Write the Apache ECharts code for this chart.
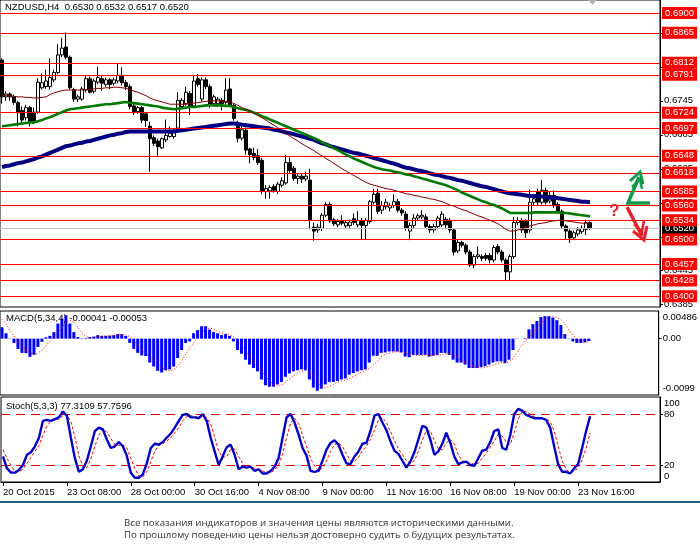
<!DOCTYPE html>
<html><head><meta charset="utf-8">
<script src="https://cdn.jsdelivr.net/npm/echarts@6/dist/echarts.min.js"></script>
<style>html,body{margin:0;padding:0;background:#fff;}#c{width:700px;height:552px;}</style>
</head><body><div id="c"></div>
<script>
const symbolName = 'NZDUSD,H4';
// prices in pips (x 0.0001)
const openPips = [6817,6752,6757,6752,6742,6728,6715,6733,6725,6725,
6768,6770,6770,6782,6795,6826,6840,6822,6765,6748,
6748,6764,6784,6762,6778,6784,6774,6782,6776,6780,
6790,6777,6770,6736,6726,6733,6722,6700,6680,6674,
6662,6676,6682,6682,6697,6735,6740,6758,6736,6784,
6748,6782,6770,6740,6740,6746,6742,6766,6737,6702,
6679,6693,6660,6652,6648,6640,6585,6586,6594,6585,
6596,6600,6636,6626,6608,6612,6607,6605,6522,6517,
6520,6543,6562,6535,6526,6533,6524,6525,6537,6526,
6534,6525,6532,6566,6582,6552,6558,6556,6560,6567,
6552,6545,6515,6525,6538,6540,6540,6523,6517,6523,
6526,6536,6534,6517,6480,6495,6490,6478,6455,6470,
6470,6472,6472,6464,6488,6478,6464,6443,6470,6530,
6534,6532,6517,6566,6585,6566,6587,6568,6578,6562,
6550,6524,6515,6503,6510,6514,6518,6530];
const highPips = [6820,6762,6760,6756,6745,6735,6738,6736,6733,6785,
6793,6800,6820,6800,6845,6856,6866,6825,6768,6756,
6770,6790,6788,6784,6805,6790,6786,6785,6786,6812,
6804,6782,6774,6740,6736,6736,6725,6708,6684,6678,
6680,6712,6700,6696,6760,6750,6770,6762,6790,6792,
6786,6786,6774,6756,6752,6750,6785,6785,6740,6710,
6700,6698,6662,6662,6660,6644,6596,6596,6598,6602,
6610,6650,6645,6630,6616,6616,6620,6625,6530,6528,
6547,6566,6566,6538,6536,6543,6533,6535,6546,6550,
6538,6538,6570,6590,6590,6568,6572,6565,6580,6572,
6556,6550,6530,6545,6546,6552,6545,6527,6528,6542,
6550,6540,6538,6520,6500,6498,6493,6482,6474,6488,
6474,6476,6476,6490,6492,6482,6467,6474,6540,6540,
6538,6536,6588,6580,6590,6605,6592,6585,6587,6566,
6553,6527,6518,6516,6522,6525,6535,6532];
const lowPips = [6740,6745,6745,6738,6700,6705,6710,6700,6704,6722,
6765,6766,6765,6778,6792,6822,6818,6765,6743,6743,
6745,6760,6758,6758,6774,6763,6770,6766,6772,6776,
6772,6764,6730,6720,6722,6706,6699,6620,6665,6648,
6660,6672,6680,6678,6692,6730,6736,6720,6732,6770,
6744,6766,6732,6736,6735,6728,6738,6734,6710,6672,
6675,6650,6635,6640,6632,6580,6572,6572,6583,6580,
6592,6597,6618,6604,6598,6600,6603,6518,6498,6512,
6515,6540,6530,6524,6522,6525,6520,6521,6526,6522,
6500,6500,6528,6562,6545,6545,6553,6550,6556,6548,
6542,6516,6499,6520,6534,6536,6520,6512,6512,6518,
6522,6520,6512,6472,6476,6486,6474,6452,6450,6466,
6462,6463,6458,6460,6474,6460,6428,6428,6466,6526,
6512,6503,6512,6560,6560,6562,6562,6564,6556,6546,
6520,6500,6494,6500,6506,6510,6508,6517];
const closePips = [6752,6757,6752,6742,6724,6711,6733,6708,6708,6778,
6777,6780,6786,6795,6826,6838,6822,6768,6748,6752,
6766,6784,6760,6780,6786,6776,6782,6774,6782,6790,
6777,6770,6735,6724,6733,6711,6710,6678,6670,6664,
6678,6684,6688,6690,6746,6746,6760,6736,6780,6774,
6782,6770,6737,6752,6748,6740,6764,6737,6714,6679,
6694,6658,6650,6645,6636,6585,6590,6592,6587,6598,
6604,6636,6622,6608,6612,6607,6612,6534,6515,6522,
6543,6562,6533,6528,6532,6529,6530,6531,6530,6534,
6525,6534,6567,6580,6550,6560,6566,6560,6567,6552,
6547,6520,6525,6538,6542,6543,6523,6517,6523,6538,
6545,6526,6517,6478,6495,6490,6478,6455,6470,6473,
6467,6467,6464,6486,6478,6464,6443,6470,6530,6534,
6517,6512,6566,6572,6566,6587,6566,6578,6560,6550,
6524,6515,6503,6512,6517,6520,6530,6520];
const maFastPips = [6755,6754,6754,6753,6752,6752,6751,6751,6750,6750,
6751,6752,6756,6759,6761,6763,6764,6764,6764,6764,
6764,6765,6765,6766,6767,6767,6768,6768,6769,6769,
6768,6767,6765,6762,6760,6757,6754,6750,6747,6745,
6743,6741,6739,6739,6739,6739,6739,6740,6741,6742,
6743,6744,6745,6745,6745,6744,6744,6743,6740,6737,
6733,6730,6727,6723,6719,6715,6711,6706,6702,6697,
6692,6687,6683,6678,6674,6669,6665,6661,6657,6652,
6648,6643,6639,6634,6630,6625,6621,6617,6613,6609,
6605,6601,6598,6596,6594,6592,6590,6589,6587,6585,
6583,6581,6580,6578,6577,6575,6574,6572,6571,6569,
6567,6564,6561,6559,6556,6553,6551,6548,6545,6542,
6540,6537,6534,6531,6528,6523,6518,6515,6515,6517,
6519,6522,6524,6526,6528,6529,6530,6532,6533,6534,
6534,6533,6532,6531,6530,6529,6529,6529];
const maMidPips = [6700,6701,6702,6703,6704,6705,6706,6707,6707,6709,
6711,6714,6716,6719,6722,6725,6728,6730,6731,6732,
6733,6734,6735,6736,6737,6738,6739,6739,6740,6741,
6742,6743,6742,6741,6740,6739,6738,6737,6736,6735,
6733,6732,6731,6730,6731,6732,6733,6734,6734,6735,
6736,6737,6737,6737,6737,6737,6736,6736,6734,6732,
6730,6729,6727,6724,6721,6718,6715,6712,6709,6706,
6703,6700,6697,6694,6691,6688,6685,6682,6679,6676,
6672,6668,6665,6661,6658,6654,6650,6647,6643,6640,
6637,6634,6631,6628,6626,6624,6623,6622,6620,6619,
6617,6615,6614,6612,6610,6608,6606,6604,6602,6600,
6598,6596,6593,6590,6587,6583,6580,6577,6574,6571,
6568,6566,6563,6561,6558,6555,6551,6547,6547,6547,
6547,6547,6547,6548,6548,6548,6548,6548,6548,6548,
6547,6547,6546,6545,6544,6543,6542,6541];
const maSlowPips = [6628,6630,6631,6633,6635,6636,6638,6640,6642,6645,
6647,6650,6653,6656,6659,6662,6665,6666,6668,6670,
6671,6673,6674,6676,6678,6680,6682,6684,6685,6687,
6688,6690,6691,6691,6691,6691,6691,6691,6691,6691,
6691,6691,6691,6691,6692,6693,6694,6695,6696,6697,
6698,6699,6700,6701,6702,6703,6704,6705,6705,6704,
6703,6702,6701,6700,6699,6698,6697,6696,6694,6693,
6691,6689,6688,6686,6684,6682,6680,6678,6676,6673,
6670,6668,6665,6663,6661,6659,6657,6655,6653,6652,
6650,6648,6646,6644,6642,6640,6638,6636,6634,6632,
6629,6627,6626,6624,6622,6621,6619,6617,6615,6614,
6612,6610,6609,6607,6605,6604,6602,6600,6598,6596,
6594,6593,6591,6589,6587,6585,6583,6582,6581,6580,
6579,6578,6577,6577,6576,6576,6575,6574,6574,6573,
6572,6571,6570,6569,6568,6567,6567,6566];
// MACD in units of 0.00001
const macdMain = [200,95,-5,-75,-180,-250,-255,-320,-285,-145,
-55,25,50,115,265,355,410,265,115,28,
-8,10,28,38,62,48,48,52,62,80,
80,48,-75,-180,-250,-295,-305,-420,-490,-565,
-595,-555,-540,-490,-340,-200,-75,-48,95,150,
218,218,160,115,95,62,80,48,-48,-200,
-265,-370,-455,-515,-575,-718,-820,-845,-845,-805,
-760,-670,-612,-575,-555,-540,-555,-718,-860,-915,
-880,-805,-760,-760,-745,-718,-700,-632,-605,-575,
-555,-540,-420,-300,-300,-250,-242,-225,-225,-225,
-242,-315,-325,-285,-285,-285,-285,-315,-300,-285,
-250,-250,-285,-370,-420,-420,-455,-515,-515,-515,
-500,-485,-455,-420,-400,-400,-430,-370,-200,-5,
2,10,165,255,310,380,395,395,370,325,
238,80,-5,-48,-76,-76,-62,-41];
const macdSignal = [340,260,150,55,-40,-130,-190,-250,-280,-255,
-200,-130,-40,35,100,200,285,325,285,205,
100,35,15,17,35,45,50,52,52,60,
68,68,35,-30,-115,-200,-255,-320,-375,-445,
-515,-550,-565,-545,-480,-395,-275,-165,-80,30,
105,170,185,175,130,105,85,72,35,-30,
-115,-205,-320,-400,-480,-565,-655,-740,-805,-830,
-815,-770,-710,-655,-605,-570,-555,-590,-655,-760,
-840,-865,-840,-800,-765,-745,-730,-700,-665,-630,
-590,-565,-525,-460,-400,-315,-275,-255,-235,-230,
-230,-250,-275,-290,-300,-295,-285,-292,-295,-295,
-285,-265,-262,-290,-330,-380,-420,-460,-490,-505,
-515,-505,-490,-465,-440,-420,-425,-405,-350,-250,
-140,-50,40,110,185,275,335,375,390,375,
330,255,160,65,-10,-55,-65,-53];
const stochK = [30,16,11,11,14,20,32,35,42,52,
72,73,72,74,76,83,78,52,28,12,
15,25,42,60,64,62,50,40,42,47,
42,31,11,5,5,9,22,40,45,44,
47,52,57,64,72,79,80,76,76,75,
80,72,52,36,20,30,41,44,32,15,
18,17,18,13,15,10,10,13,18,28,
52,76,80,70,56,40,31,13,12,13,
25,38,46,49,44,32,22,21,30,36,
45,46,60,78,80,70,61,48,37,33,
25,17,24,35,50,66,64,50,32,36,
45,58,46,30,21,23,24,20,19,28,
37,38,47,60,62,40,38,55,80,86,
84,79,77,75,75,75,73,64,42,21,
12,12,10,16,21,40,60,77.3109];
const stochD = [38,28,19,13,12,15,22,29,36,43,
55,66,72,73,74,78,79,71,53,31,
18,17,27,42,55,62,59,51,44,43,
44,40,28,16,7,6,12,24,36,43,
45,48,52,58,64,72,77,78,77,76,
77,76,68,53,36,29,30,38,39,30,
22,17,18,16,15,13,12,11,14,20,
33,52,69,75,69,55,42,28,19,13,
17,25,36,44,46,42,33,25,24,29,
37,42,50,61,73,76,70,60,49,39,
32,25,22,25,36,50,60,60,49,39,
38,46,50,45,32,25,23,22,21,22,
28,34,41,48,56,54,47,44,58,74,
83,83,80,77,76,75,74,71,60,42,
25,15,11,13,16,26,40,57.7596];
const levelLines = [0.6900,0.6865,0.6812,0.6791,0.6724,0.6697,0.6648,0.6618,0.6585,0.6560,0.6534,0.6500,0.6457,0.6428,0.6400];
const priceTicks = [0.6385,0.6445,0.6505,0.6565,0.6625,0.6685,0.6745,0.6805,0.6865];
const priceRange = [0.6381, 0.6923];
const macdTicks = [-0.0099, 0, 0.00486];
const stochTicks = [0, 20, 80, 100];
const stochLevels = [20, 80];
const firstBar = '2015-10-20T16:00:00Z';
const totalSlots = 165;
const labelEvery = 16;
const footerLines = ['Все показания индикаторов и значения цены являются историческими данными.',
                     'По прошлому поведению цены нельзя достоверно судить о будущих результатах.'];

const nBars = closePips.length;
const P = v => v / 10000;
const months = ['Jan','Feb','Mar','Apr','May','Jun','Jul','Aug','Sep','Oct','Nov','Dec'];
const slots = [];
let t = Date.parse(firstBar);
while (slots.length < totalSlots) {
  const d = new Date(t); const wd = d.getUTCDay();
  if (wd !== 0 && wd !== 6) slots.push(t);
  t += 4 * 3600e3;
}
const categories = slots.map((ts, i) => {
  const d = new Date(ts);
  const day = d.getUTCDate() + ' ' + months[d.getUTCMonth()];
  if (i === 0) return day + ' ' + d.getUTCFullYear();
  return day + ' ' + String(d.getUTCHours()).padStart(2, '0') + ':00';
});
const showLabel = i => i % labelEvery === 0 && i < nBars;

const candles = closePips.map((c, i) => [P(openPips[i]), P(c), P(lowPips[i]), P(highPips[i])]);
const last = nBars - 1;
const f4 = v => v.toFixed(4);
const titleText = symbolName + '  ' + [openPips[last], highPips[last], lowPips[last], closePips[last]].map(v => f4(P(v))).join(' ');
const macdText = 'MACD(5,34,4) ' + (macdMain[last] / 1e5).toFixed(5) + ' ' + (macdSignal[last] / 1e5).toFixed(5);
const stochText = 'Stoch(5,3,3) ' + stochK[last].toFixed(4) + ' ' + stochD[last].toFixed(4);

const FONT = 'Liberation Sans';
const lbl = { fontSize: 9.5, color: '#000', fontFamily: FONT };
const grids = [
  { left: 0, width: 660, top: 0, height: 307 },
  { left: 0, width: 660, top: 311, height: 84 },
  { left: 0, width: 660, top: 397, height: 85 }
].map(g => Object.assign(g, { show: true, borderColor: '#000', borderWidth: 1, backgroundColor: 'transparent' }));

const xAxes = [0, 1, 2].map(gi => ({
  type: 'category', gridIndex: gi, data: categories, boundaryGap: true,
  show: gi === 2,
  axisLine: { show: true, lineStyle: { color: '#000' } },
  axisTick: { show: true, alignWithLabel: true, interval: (i) => showLabel(i), length: 4, lineStyle: { color: '#000' } },
  axisLabel: Object.assign({ interval: (i) => showLabel(i), align: 'left', margin: 5 }, lbl),
  splitLine: { show: false }
}));

const yAxes = [
  { type: 'value', gridIndex: 0, position: 'right', min: priceRange[0], max: priceRange[1],
    axisLine: { show: true, lineStyle: { color: '#000' } },
    axisTick: { show: true, length: 3, customValues: priceTicks, lineStyle: { color: '#000' } },
    axisLabel: Object.assign({ customValues: priceTicks, margin: 4, formatter: v => f4(v) }, lbl),
    splitLine: { show: false } },
  { type: 'value', gridIndex: 1, position: 'right', min: macdTicks[0], max: macdTicks[2],
    axisLine: { show: true, lineStyle: { color: '#000' } },
    axisTick: { show: true, length: 3, customValues: [0], lineStyle: { color: '#000' } },
    axisLabel: Object.assign({ customValues: macdTicks, margin: 4,
      formatter: v => v > 0 ? '{t|' + v.toFixed(5) + '}' : (v < 0 ? '{b|' + v.toFixed(4) + '}' : '0.00'),
      rich: { t: { padding: [13, 0, 0, 0], fontSize: 9.5, fontFamily: FONT, color: '#000' },
              b: { padding: [0, 0, 13, 0], fontSize: 9.5, fontFamily: FONT, color: '#000' } } }, lbl),
    splitLine: { show: false } },
  { type: 'value', gridIndex: 2, position: 'right', min: 0, max: 100,
    axisLine: { show: true, lineStyle: { color: '#000' } },
    axisTick: { show: true, length: 3, customValues: stochLevels, lineStyle: { color: '#000' } },
    axisLabel: Object.assign({ customValues: stochTicks, margin: 4,
      formatter: v => v === 100 ? '{t|100}' : (v === 0 ? '{b|0}' : String(v)),
      rich: { t: { padding: [12, 0, 0, 0], fontSize: 9.5, fontFamily: FONT, color: '#000' },
              b: { padding: [0, 0, 12, 0], fontSize: 9.5, fontFamily: FONT, color: '#000' } } }, lbl),
    splitLine: { show: false } }
];

const nulls = closePips.map(() => null);
const series = [
  { type: 'candlestick', xAxisIndex: 0, yAxisIndex: 0, data: candles, barWidth: 3, z: 3,
    itemStyle: { color: '#ffffff', color0: '#000000', borderColor: '#000000', borderColor0: '#000000', borderWidth: 1 } },
  { type: 'line', xAxisIndex: 0, yAxisIndex: 0, data: maSlowPips.map(P), symbol: 'none', z: 4,
    lineStyle: { color: '#000080', width: 4 } },
  { type: 'line', xAxisIndex: 0, yAxisIndex: 0, data: maMidPips.map(P), symbol: 'none', z: 5,
    lineStyle: { color: '#007a00', width: 2.6 } },
  { type: 'line', xAxisIndex: 0, yAxisIndex: 0, data: maFastPips.map(P), symbol: 'none', z: 6,
    lineStyle: { color: '#8b0000', width: 1 } },
  { type: 'line', xAxisIndex: 0, yAxisIndex: 0, data: nulls, z: 8, silent: true,
    markLine: { silent: true, symbol: ['none', 'none'], precision: 4, animation: false,
      lineStyle: { color: '#c0c0c0', width: 1, type: 'solid' },
      label: { show: true, position: 'end', distance: 2, formatter: p => f4(Number(p.value)),
        backgroundColor: '#000', color: '#fff', padding: [1, 3, 1, 3], fontSize: 9.5, fontFamily: FONT },
      data: [{ yAxis: P(closePips[last]) }] } },
  { type: 'line', xAxisIndex: 0, yAxisIndex: 0, data: nulls, z: 10, silent: true,
    markLine: { silent: true, symbol: ['none', 'none'], precision: 4, animation: false,
      lineStyle: { color: '#ff0000', width: 1, type: 'solid' },
      label: { show: true, position: 'end', distance: 2, formatter: p => f4(Number(p.value)),
        backgroundColor: '#ff0000', color: '#fff', padding: [1, 3, 1, 3], fontSize: 9.5, fontFamily: FONT },
      data: levelLines.map(v => ({ yAxis: v })) } },
  { type: 'bar', xAxisIndex: 1, yAxisIndex: 1, data: macdMain.map(v => v / 1e5), barWidth: 3, z: 3,
    itemStyle: { color: '#0000ff' } },
  { type: 'line', xAxisIndex: 1, yAxisIndex: 1, data: macdSignal.map(v => v / 1e5), symbol: 'none', z: 4,
    lineStyle: { color: '#ff0000', width: 1, type: [1, 2] } },
  { type: 'line', xAxisIndex: 2, yAxisIndex: 2, data: stochD, symbol: 'none', z: 4,
    lineStyle: { color: '#ff0000', width: 1, type: [3, 2] } },
  { type: 'line', xAxisIndex: 2, yAxisIndex: 2, data: stochK, symbol: 'none', z: 5,
    lineStyle: { color: '#0000cd', width: 2.4 },
    markLine: { silent: true, symbol: ['none', 'none'], animation: false, label: { show: false },
      lineStyle: { color: '#e00000', width: 1, type: [9, 6] },
      data: stochLevels.map(v => ({ yAxis: v })) } }
];

const GREEN = '#109a48', RED = '#e8202a';
const graphic = [
  { type: 'text', left: 5, top: 2, z: 20, style: { text: titleText, font: '9.5px "Liberation Sans"', fill: '#000' } },
  { type: 'text', left: 6, top: 313, z: 20, style: { text: macdText, font: '9.5px "Liberation Sans"', fill: '#000' } },
  { type: 'text', left: 6, top: 401, z: 20, style: { text: stochText, font: '9.5px "Liberation Sans"', fill: '#000' } },
  { type: 'polygon', z: 20, shape: { points: [[588, 0], [597, 0], [592.5, 5]] }, style: { fill: '#b0b0b0' } },
  { type: 'polyline', z: 20, shape: { points: [[650, 203], [628, 203], [639, 177]] }, style: { stroke: GREEN, lineWidth: 3.5, fill: null, lineJoin: 'miter' } },
  { type: 'polyline', z: 20, shape: { points: [[630, 181], [640, 172], [643, 184]] }, style: { stroke: GREEN, lineWidth: 3, fill: null, lineJoin: 'miter' } },
  { type: 'polyline', z: 20, shape: { points: [[632, 187], [640, 179], [642, 189]] }, style: { stroke: GREEN, lineWidth: 2.5, fill: null, lineJoin: 'miter' } },
  { type: 'polyline', z: 20, shape: { points: [[627, 207], [642, 236]] }, style: { stroke: RED, lineWidth: 3.5, fill: null } },
  { type: 'polyline', z: 20, shape: { points: [[633, 231], [644, 240], [647, 226]] }, style: { stroke: RED, lineWidth: 3, fill: null, lineJoin: 'miter' } },
  { type: 'polyline', z: 20, shape: { points: [[634, 224], [642, 232], [644, 220]] }, style: { stroke: RED, lineWidth: 2.5, fill: null, lineJoin: 'miter' } },
  { type: 'text', left: 609, top: 203, z: 20, style: { text: '?', font: 'bold 17px "Liberation Sans"', fill: RED } },
  { type: 'rect', z: 20, shape: { x: 0, y: 501, width: 700, height: 2 }, style: { fill: '#1f5e7e' } },
  { type: 'text', left: 124, top: 518, z: 20, style: { text: footerLines[0], font: '9.7px "Open Sans"', fill: '#333' } },
  { type: 'text', left: 124, top: 530, z: 20, style: { text: footerLines[1], font: '9.7px "Open Sans"', fill: '#333' } }
];

const chart = echarts.init(document.getElementById('c'), null, { renderer: 'canvas' });
chart.setOption({
  backgroundColor: '#ffffff', animation: false,
  grid: grids, xAxis: xAxes, yAxis: yAxes, series: series, graphic: graphic
});
</script></body></html>
